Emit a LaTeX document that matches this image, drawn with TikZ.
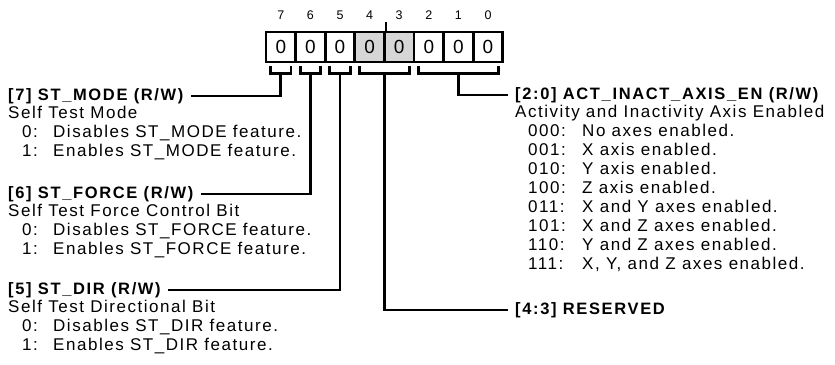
\documentclass[tikz,border=0pt]{standalone}
\usepackage{fontspec}
\setmainfont{Liberation Sans}[LetterSpace=9, BoldFeatures={LetterSpace=10}]
\usepackage{tikz}
\usetikzlibrary{positioning}
\definecolor{rsvgray}{RGB}{214,214,214}
\newcommand{\lval}[1]{\hspace*{14pt}\makebox[31pt][l]{#1}}
\newcommand{\rval}[1]{\hspace*{13pt}\makebox[54pt][l]{#1}}

\begin{document}
\begin{tikzpicture}[x=1pt, y=-1pt,
    cell/.style={draw, line width=2.8pt, minimum width=29.6pt, minimum height=30pt,
                 inner sep=0pt, font=\fontsize{19}{19}\selectfont},
    bitnum/.style={inner sep=0pt, font=\fontsize{12.5}{12.5}\selectfont},
    title/.style={inner sep=0pt, anchor=west, font=\fontsize{16.5}{19}\selectfont\bfseries},
    desc/.style={inner sep=0pt, anchor=north west, align=left, font=\fontsize{17}{19}\selectfont},
    brace/.style={line width=2.8pt},
    wire/.style={line width=2.8pt}
]
\useasboundingbox (0,0) rectangle (835,364);
\foreach \b/\f [count=\i from 0] in {7/white,6/white,5/white,4/rsvgray,3/rsvgray,2/white,1/white,0/white} {
    \node[cell, fill=\f] (b\b) at (280.8+29.6*\i, 47) {0};
    \node[bitnum] (n\b) at ([yshift=15pt]b\b.north) {\b};
}
\draw[wire, line width=2.2pt] (b4.north east) -- ++(0,-9);
\foreach \hi/\lo/\m in {7/7/m7, 6/6/m6, 5/5/m5, 4/3/m43, 2/0/m20} {
    \draw[brace] ([xshift=6pt, yshift=-3pt]b\hi.south west) -- ++(0,7)
        -| coordinate[pos=0.25] (\m) ([xshift=-6pt, yshift=-3pt]b\lo.south east);
}

\node[title] (t7) at (8,96) {[7] ST\_MODE (R/W)};
\node[desc] (d7) at ([yshift=-2pt]t7.south west) {Self Test Mode\\
    \lval{0:}Disables ST\_MODE feature.\\
    \lval{1:}Enables ST\_MODE feature.};
\node[title] (t6) at (8,194) {[6] ST\_FORCE (R/W)};
\node[desc] (d6) at ([yshift=-2pt]t6.south west) {Self Test Force Control Bit\\
    \lval{0:}Disables ST\_FORCE feature.\\
    \lval{1:}Enables ST\_FORCE feature.};
\node[title] (t5) at (8,290) {[5] ST\_DIR (R/W)};
\node[desc] (d5) at ([yshift=-2pt]t5.south west) {Self Test Directional Bit\\
    \lval{0:}Disables ST\_DIR feature.\\
    \lval{1:}Enables ST\_DIR feature.};
\node[title] (t20) at (515,95) {[2:0] ACT\_INACT\_AXIS\_EN (R/W)};
\node[desc] (d20) at ([yshift=-2pt]t20.south west) {Activity and Inactivity Axis Enabled\\
    \rval{000:}No axes enabled.\\
    \rval{001:}X axis enabled.\\
    \rval{010:}Y axis enabled.\\
    \rval{100:}Z axis enabled.\\
    \rval{011:}X and Y axes enabled.\\
    \rval{101:}X and Z axes enabled.\\
    \rval{110:}Y and Z axes enabled.\\
    \rval{111:}X, Y, and Z axes enabled.};
\node[title] (t43) at (515,310) {[4:3] RESERVED};

\draw[wire] (m7) |- ([xshift=7pt]t7.east);
\draw[wire] (m6) |- ([xshift=7pt]t6.east);
\draw[wire] (m5) |- ([xshift=7pt]t5.east);
\draw[wire] (m43) |- ([xshift=-7pt]t43.west);
\draw[wire] (m20) |- ([xshift=-7pt]t20.west);
\end{tikzpicture}
\end{document}
